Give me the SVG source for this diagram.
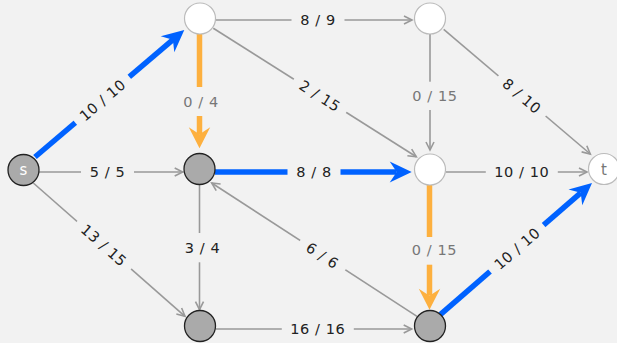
<svg xmlns="http://www.w3.org/2000/svg" xmlns:xlink="http://www.w3.org/1999/xlink" width="617" height="343" viewBox="0 0 617 343">
<style>
.bg{fill:#f2f2f2}
.g{stroke:#999;stroke-width:1.6;fill:none}
.b{stroke:#0062ff;stroke-width:5.5;fill:none}
.o{stroke:#fdb03f;stroke-width:5.5;fill:none}
.lb{font-family:"DejaVu Sans",Verdana,sans-serif;font-size:14.5px;letter-spacing:0.6px;fill:#222;text-anchor:middle}
.lg{font-family:"DejaVu Sans",Verdana,sans-serif;font-size:14.5px;letter-spacing:0.6px;fill:#777;text-anchor:middle}
.cut{fill:#f2f2f2}
.ng{fill:#aaa;stroke:#222;stroke-width:1.3}
.nw{fill:#fff;stroke:#bbb;stroke-width:1.2}
.nt{font-family:"DejaVu Sans",Verdana,sans-serif;font-size:15px;text-anchor:middle}
</style>
<defs>
<path id="gh" d="M-8,-4 L0,0 L-8,4" class="g"/>
<path id="bh" d="M0,0 L-22,-10.5 L-15,0 L-22,10.5 Z" fill="#0062ff"/>
<path id="oh" d="M0,0 L-21,-10.7 L-14,0 L-21,10.7 Z" fill="#fdb03f"/>
</defs>
<rect class="bg" width="617" height="343"/>
<g id="connectors">
<!-- s->A -->
<line class="b" x1="35" y1="157" x2="173.6" y2="39.1"/>
<use xlink:href="#bh" transform="translate(184.3,30) rotate(-40.3)"/>
<g transform="translate(102.5,100) rotate(-40.3)"><rect class="cut" x="-35.5" y="-7" width="71" height="14"/><text class="lb" y="5.3">10 / 10</text></g>
<!-- A->C -->
<line class="o" x1="199.5" y1="34" x2="199.5" y2="134.3"/>
<use xlink:href="#oh" transform="translate(199.5,148.3) rotate(90)"/>
<rect class="cut" x="193" y="87" width="13" height="29"/><text class="lg" x="201" y="107">0 / 4</text>
<!-- A->B -->
<line class="g" x1="215.5" y1="20" x2="412" y2="20"/>
<use xlink:href="#gh" transform="translate(412,20)"/>
<g transform="translate(318,20)"><rect class="cut" x="-26.5" y="-7" width="53" height="14"/><text class="lb" y="5.3">8 / 9</text></g>
<!-- A->D -->
<line class="g" x1="213.3" y1="28.3" x2="416.3" y2="156.7"/>
<use xlink:href="#gh" transform="translate(416.3,156.7) rotate(32.3)"/>
<g transform="translate(320,95.8) rotate(32.3)"><rect class="cut" x="-31" y="-7" width="62" height="14"/><text class="lb" y="5.3">2 / 15</text></g>
<!-- B->D -->
<line class="g" x1="430" y1="34" x2="430" y2="150"/>
<use xlink:href="#gh" transform="translate(430,150) rotate(90)"/>
<rect class="cut" x="424" y="81.7" width="12" height="28.3"/><text class="lg" x="435" y="100.5">0 / 15</text>
<!-- B->t -->
<line class="g" x1="443.7" y1="29.3" x2="590.3" y2="154"/>
<use xlink:href="#gh" transform="translate(590.3,154) rotate(40.4)"/>
<g transform="translate(522,96) rotate(40.4)"><rect class="cut" x="-31" y="-7" width="62" height="14"/><text class="lb" y="5.3">8 / 10</text></g>
<!-- s->C -->
<line class="g" x1="39" y1="172" x2="182.7" y2="172"/>
<use xlink:href="#gh" transform="translate(182.7,172)"/>
<g transform="translate(107.5,172)"><rect class="cut" x="-26.5" y="-7" width="53" height="14"/><text class="lb" y="5.3">5 / 5</text></g>
<!-- C->D -->
<line class="b" x1="215" y1="172" x2="396.7" y2="172"/>
<use xlink:href="#bh" transform="translate(411.7,172)"/>
<g transform="translate(314,172)"><rect class="cut" x="-26.5" y="-7" width="53" height="14"/><text class="lb" y="5.3">8 / 8</text></g>
<!-- D->t -->
<line class="g" x1="446" y1="172" x2="587" y2="172"/>
<use xlink:href="#gh" transform="translate(587,172)"/>
<g transform="translate(521.8,172)"><rect class="cut" x="-36" y="-7" width="72" height="14"/><text class="lb" y="5.3">10 / 10</text></g>
<!-- D->F -->
<line class="o" x1="429.5" y1="185" x2="429.5" y2="295.7"/>
<use xlink:href="#oh" transform="translate(429.5,309.7) rotate(90)"/>
<rect class="cut" x="423" y="237" width="13" height="27.7"/><text class="lg" x="434.5" y="255.3">0 / 15</text>
<!-- F->t -->
<line class="b" x1="440.3" y1="314.7" x2="580.7" y2="192.8"/>
<use xlink:href="#bh" transform="translate(592,183) rotate(-41)"/>
<g transform="translate(517,248.5) rotate(-41)"><rect class="cut" x="-35.5" y="-7" width="71" height="14"/><text class="lb" y="5.3">10 / 10</text></g>
<!-- F->C -->
<line class="g" x1="417" y1="316.3" x2="211.7" y2="183"/>
<use xlink:href="#gh" transform="translate(211.7,183) rotate(213)"/>
<g transform="translate(322.5,255.5) rotate(33)"><rect class="cut" x="-27" y="-7" width="54" height="14"/><text class="lb" y="5.3">6 / 6</text></g>
<!-- C->E -->
<line class="g" x1="199.5" y1="185" x2="199.5" y2="309.7"/>
<use xlink:href="#gh" transform="translate(199.5,309.7) rotate(90)"/>
<rect class="cut" x="193.5" y="233" width="12" height="29.3"/><text class="lb" x="202.5" y="253.3">3 / 4</text>
<!-- s->E -->
<line class="g" x1="33.3" y1="183" x2="185" y2="316.3"/>
<use xlink:href="#gh" transform="translate(185,316.3) rotate(41.3)"/>
<g transform="translate(104,245.3) rotate(41.3)"><rect class="cut" x="-36" y="-7" width="72" height="14"/><text class="lb" y="5.3">13 / 15</text></g>
<!-- E->F -->
<line class="g" x1="216" y1="329" x2="411.7" y2="329"/>
<use xlink:href="#gh" transform="translate(411.7,329)"/>
<g transform="translate(317.8,329)"><rect class="cut" x="-36" y="-7" width="72" height="14"/><text class="lb" y="5.3">16 / 16</text></g>
</g>
<g id="node-s"><circle class="ng" cx="23.5" cy="170" r="15.5"/><text class="nt" x="23.5" y="175" fill="#fff">s</text></g>
<g id="node-a"><circle class="nw" cx="200" cy="18.5" r="15.5"/></g>
<g id="node-b"><circle class="nw" cx="430" cy="18.5" r="15.5"/></g>
<g id="node-c"><circle class="ng" cx="199.5" cy="169" r="15.5"/></g>
<g id="node-d"><circle class="nw" cx="430" cy="169.5" r="15.5"/></g>
<g id="node-t"><circle class="nw" cx="604" cy="169" r="15.5"/><text class="nt" x="604" y="174.5" fill="#777">t</text></g>
<g id="node-e"><circle class="ng" cx="200" cy="326" r="15.5"/></g>
<g id="node-f"><circle class="ng" cx="430" cy="326" r="15.5"/></g>
</svg>
